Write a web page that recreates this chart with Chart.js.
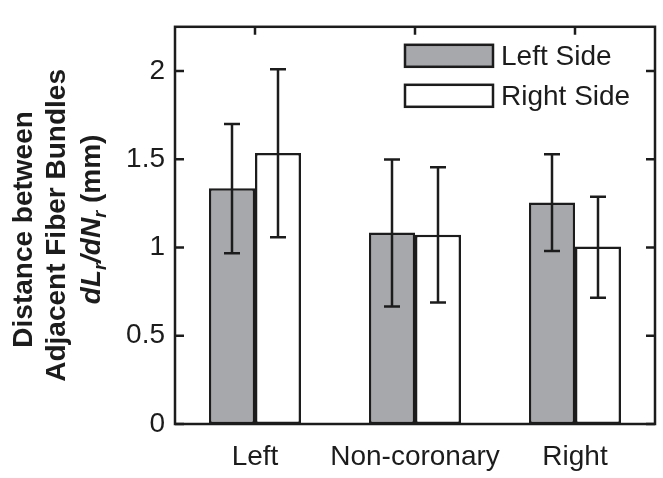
<!DOCTYPE html>
<html>
<head>
<meta charset="utf-8">
<script src="https://cdn.jsdelivr.net/npm/chart.js@4/dist/chart.umd.min.js"></script>
<style>
  html, body { margin: 0; padding: 0; background: #fff; }
  #wrap { width: 663px; height: 478px; }
</style>
</head>
<body>
<div id="wrap"><canvas id="canevas" width="663" height="478"></canvas></div>
<script>
// data
var categories = ["Left", "Non-coronary", "Right"];
var seriesNames = ["Left Side", "Right Side"];
var leftSide = [1.335, 1.085, 1.255];
var rightSide = [1.535, 1.072, 1.005];
var leftErrLow = [0.967, 0.665, 0.98];
var leftErrHigh = [1.70, 1.499, 1.528];
var rightErrLow = [1.058, 0.688, 0.715];
var rightErrHigh = [2.009, 1.454, 1.288];
var yTicks = [0, 0.5, 1, 1.5, 2];

var ink = "#1c1c1c";
var errLows = [leftErrLow, rightErrLow];
var errHighs = [leftErrHigh, rightErrHigh];

// frame, inner ticks, error bars, legend and y title
var extras = {
	id: "extras",
	afterDatasetsDraw: function (chart) {
		var ctx = chart.ctx;
		var a = chart.chartArea;
		var ys = chart.scales.y, xs = chart.scales.x;
		ctx.save();
		ctx.strokeStyle = ink;
		ctx.lineWidth = 2.5;

		// error bars
		chart.data.datasets.forEach(function (ds, i) {
			var meta = chart.getDatasetMeta(i);
			meta.data.forEach(function (el, j) {
				var yl = ys.getPixelForValue(errLows[i][j]);
				var yh = ys.getPixelForValue(errHighs[i][j]);
				ctx.beginPath();
				ctx.moveTo(el.x, yl); ctx.lineTo(el.x, yh);
				ctx.moveTo(el.x - 8, yl); ctx.lineTo(el.x + 8, yl);
				ctx.moveTo(el.x - 8, yh); ctx.lineTo(el.x + 8, yh);
				ctx.stroke();
			});
		});

		// frame
		ctx.strokeRect(a.left, a.top, a.right - a.left, a.bottom - a.top);

		// inner ticks
		ctx.beginPath();
		yTicks.forEach(function (v) {
			var y = ys.getPixelForValue(v);
			ctx.moveTo(a.left, y); ctx.lineTo(a.left + 9, y);
			ctx.moveTo(a.right, y); ctx.lineTo(a.right - 9, y);
		});
		categories.forEach(function (c, k) {
			var x = xs.getPixelForValue(k);
			ctx.moveTo(x, a.top); ctx.lineTo(x, a.top + 8);
		});
		ctx.stroke();

		// legend
		var bx = a.right - 250, by = a.top + 18;
		chart.data.datasets.forEach(function (ds, i) {
			var top = by + i * 40;
			ctx.fillStyle = ds.backgroundColor;
			ctx.fillRect(bx, top, 88, 22);
			ctx.strokeRect(bx, top, 88, 22);
			ctx.fillStyle = ink;
			ctx.font = "28px 'Liberation Sans', Arial, sans-serif";
			ctx.textBaseline = "middle";
			ctx.textAlign = "left";
			ctx.fillText(ds.label, bx + 96, top + 12);
		});

		// y axis title
		var cy = (a.top + a.bottom) / 2;
		ctx.translate(0, cy);
		ctx.rotate(-Math.PI / 2);
		ctx.fillStyle = ink;
		ctx.textBaseline = "alphabetic";
		ctx.textAlign = "center";
		ctx.font = "bold 28px 'Liberation Sans', Arial, sans-serif";
		ctx.fillText("Distance between", -4, 32);
		ctx.fillText("Adjacent Fiber Bundles", 0, 65);

		// third line with subscripts
		var parts = [
			{ t: "dL", f: "italic bold 28px 'Liberation Sans', Arial, sans-serif", dy: 0 },
			{ t: "r", f: "italic bold 18px 'Liberation Sans', Arial, sans-serif", dy: 6 },
			{ t: "/dN", f: "italic bold 28px 'Liberation Sans', Arial, sans-serif", dy: 0 },
			{ t: "r", f: "italic bold 18px 'Liberation Sans', Arial, sans-serif", dy: 6 },
			{ t: " (mm)", f: "bold 28px 'Liberation Sans', Arial, sans-serif", dy: 0 }
		];
		var total = 0;
		parts.forEach(function (p) { ctx.font = p.f; p.w = ctx.measureText(p.t).width; total += p.w; });
		var px = -total / 2 + 6;
		ctx.textAlign = "left";
		parts.forEach(function (p) {
			ctx.font = p.f;
			ctx.fillText(p.t, px, 100 + p.dy);
			px += p.w;
		});
		ctx.restore();
	}
};

var c = document.getElementById("canevas");
var ctxD = c.getContext("2d");
var chart = new Chart(ctxD, {
	type: "bar",
	data: {
		labels: categories,
		datasets: [
			{
				label: seriesNames[0],
				data: leftSide,
				backgroundColor: "#a7a8ab",
				borderColor: ink,
				borderWidth: 2.5,
				borderSkipped: false
			},
			{
				label: seriesNames[1],
				data: rightSide,
				backgroundColor: "#ffffff",
				borderColor: ink,
				borderWidth: 2.5,
				borderSkipped: false
			}
		]
	},
	options: {
		responsive: false,
		animation: false,
		events: [],
		categoryPercentage: 0.575,
		barPercentage: 1,
		layout: { padding: { left: 0, right: 8, top: 9, bottom: 0 } },
		plugins: {
			legend: { display: false },
			tooltip: { enabled: false }
		},
		scales: {
			x: {
				offset: true,
				grid: { display: false, drawTicks: false },
				border: { display: false },
				ticks: {
					color: ink,
					padding: 16,
					maxRotation: 0,
					minRotation: 0,
					autoSkip: false,
					font: { family: "'Liberation Sans', Arial, sans-serif", size: 28 }
				},
				afterFit: function (s) { s.height = 54; }
			},
			y: {
				min: 0,
				max: 2.25,
				grid: { display: false, drawTicks: false },
				border: { display: false },
				afterBuildTicks: function (s) {
					s.ticks = yTicks.map(function (v) { return { value: v }; });
				},
				ticks: {
					color: ink,
					padding: 10,
					callback: function (v) { return String(v); },
					font: { family: "'Liberation Sans', Arial, sans-serif", size: 28 }
				},
				afterFit: function (s) { s.width = 175; }
			}
		}
	},
	plugins: [extras]
});
</script>
</body>
</html>
